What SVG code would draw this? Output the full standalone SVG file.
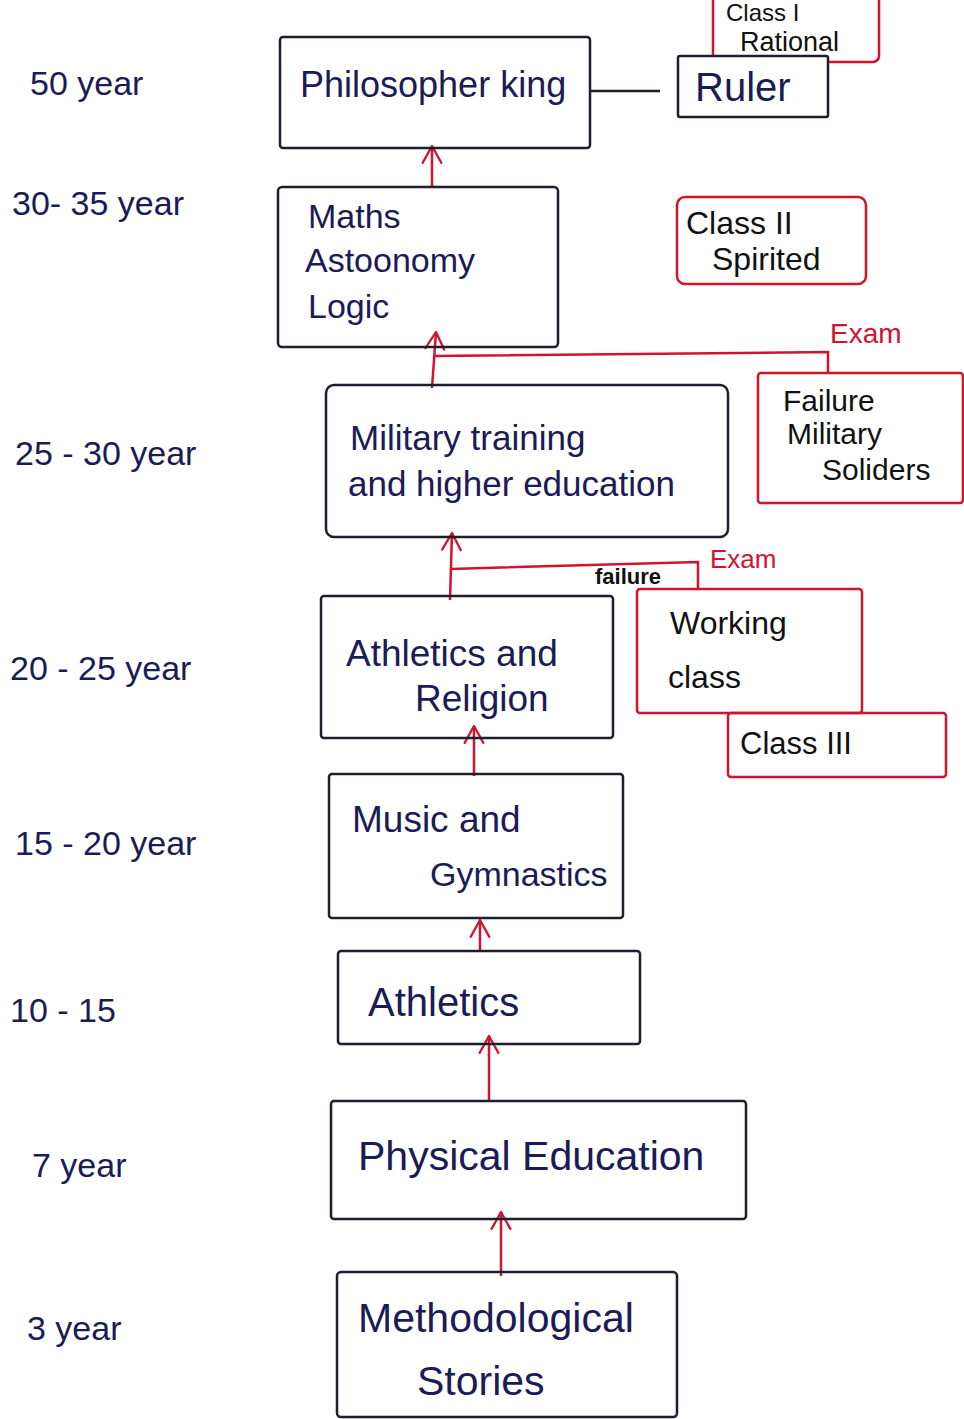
<svg xmlns="http://www.w3.org/2000/svg" width="964" height="1419" viewBox="0 0 964 1419">
<style>
.bg{fill:#ffffff}
.box{fill:none;stroke:#1e1e2e;stroke-width:2.5;stroke-linejoin:round}
.rbox{fill:none;stroke:#d3122e;stroke-width:2.5;stroke-linejoin:round}
.t{font-family:"Liberation Sans","DejaVu Sans",sans-serif;fill:#1b1b55}
.k{font-family:"Liberation Sans","DejaVu Sans",sans-serif;fill:#111111}
.r{font-family:"Liberation Sans","DejaVu Sans",sans-serif;fill:#d3122e}
.con{fill:none;stroke:#d3122e;stroke-width:2.5}
.blk{fill:none;stroke:#1e1e2e;stroke-width:2.5}
</style>
<defs>
<marker id="ah" viewBox="0 0 12 12" refX="11" refY="6" markerWidth="9" markerHeight="9" orient="auto" markerUnits="strokeWidth">
<path d="M2,1 L11,6 L2,11" fill="none" stroke="#d3122e" stroke-width="1.2" stroke-linecap="round" stroke-linejoin="round"/>
</marker>
</defs>
<rect class="bg" x="0" y="0" width="964" height="1419"/>

<g id="age-labels" font-size="34">
<text class="t" x="30" y="95">50 year</text>
<text class="t" x="12" y="215">30- 35 year</text>
<text class="t" x="15" y="465">25 - 30 year</text>
<text class="t" x="10" y="680">20 - 25 year</text>
<text class="t" x="15" y="855">15 - 20 year</text>
<text class="t" x="10" y="1022">10 -   15</text>
<text class="t" x="32" y="1177">7 year</text>
<text class="t" x="27" y="1340">3 year</text>
</g>

<g id="connectors">
<line class="blk" x1="590" y1="91" x2="660" y2="91"/>
<line class="con" x1="432" y1="186" x2="432" y2="146" marker-end="url(#ah)"/>
<line class="con" x1="432" y1="388" x2="436" y2="332" marker-end="url(#ah)"/>
<polyline class="con" points="434,356 828,352 828,374"/>
<line class="con" x1="450" y1="600" x2="452" y2="533" marker-end="url(#ah)"/>
<polyline class="con" points="450,569 698,562 698,590"/>
<line class="con" x1="474" y1="776" x2="474" y2="726" marker-end="url(#ah)"/>
<line class="con" x1="480" y1="950" x2="480" y2="920" marker-end="url(#ah)"/>
<line class="con" x1="489" y1="1102" x2="489" y2="1036" marker-end="url(#ah)"/>
<line class="con" x1="501" y1="1276" x2="501" y2="1212" marker-end="url(#ah)"/>
<text class="r" x="830" y="343" font-size="28">Exam</text>
<text class="k" x="595" y="584" font-size="22" font-weight="bold">failure</text>
<text class="r" x="710" y="568" font-size="26">Exam</text>
</g>

<g id="class-1">
<rect class="rbox" x="713" y="-6" width="166" height="68" rx="6"/>
<text class="k" x="726" y="21" font-size="24">Class I</text>
<text class="k" x="740" y="51" font-size="27">Rational</text>
</g>

<g id="philosopher-king">
<rect class="box" x="280" y="37" width="310" height="111" rx="3"/>
<text class="t" x="300" y="97" font-size="36">Philosopher king</text>
</g>

<g id="ruler">
<rect x="678" y="56" width="150" height="61" fill="#ffffff"/>
<rect class="box" x="678" y="56" width="150" height="61" rx="2"/>
<text class="t" x="695" y="101" font-size="40">Ruler</text>
</g>

<g id="maths">
<rect class="box" x="278" y="187" width="280" height="160" rx="4"/>
<text class="t" x="308" y="228" font-size="34">Maths</text>
<text class="t" x="305" y="272" font-size="34">Astoonomy</text>
<text class="t" x="308" y="318" font-size="34">Logic</text>
</g>

<g id="class-2">
<rect class="rbox" x="677" y="197" width="189" height="87" rx="8"/>
<text class="k" x="686" y="234" font-size="32">Class II</text>
<text class="k" x="712" y="270" font-size="32">Spirited</text>
</g>

<g id="failure-military">
<rect class="rbox" x="758" y="373" width="205" height="130" rx="3"/>
<text class="k" x="783" y="411" font-size="30">Failure</text>
<text class="k" x="787" y="444" font-size="30">Military</text>
<text class="k" x="822" y="480" font-size="30">Soliders</text>
</g>

<g id="military-training">
<rect class="box" x="326" y="385" width="402" height="152" rx="8"/>
<text class="t" x="350" y="450" font-size="35">Military training</text>
<text class="t" x="348" y="496" font-size="35">and  higher education</text>
</g>

<g id="working-class">
<rect class="rbox" x="637" y="589" width="225" height="124" rx="3"/>
<text class="k" x="670" y="634" font-size="32">Working</text>
<text class="k" x="668" y="688" font-size="32">class</text>
</g>

<g id="class-3">
<rect class="rbox" x="728" y="713" width="218" height="64" rx="3"/>
<text class="k" x="740" y="754" font-size="31">Class  III</text>
</g>

<g id="athletics-religion">
<rect class="box" x="321" y="596" width="292" height="142" rx="3"/>
<text class="t" x="346" y="666" font-size="37">Athletics  and</text>
<text class="t" x="415" y="711" font-size="37">Religion</text>
</g>

<g id="music-gymnastics">
<rect class="box" x="329" y="774" width="294" height="144" rx="3"/>
<text class="t" x="352" y="832" font-size="37">Music  and</text>
<text class="t" x="430" y="886" font-size="34">Gymnastics</text>
</g>

<g id="athletics">
<rect class="box" x="338" y="951" width="302" height="93" rx="3"/>
<text class="t" x="368" y="1016" font-size="40">Athletics</text>
</g>

<g id="physical-education">
<rect class="box" x="331" y="1101" width="415" height="118" rx="3"/>
<text class="t" x="358" y="1170" font-size="41">Physical Education</text>
</g>

<g id="methodological-stories">
<rect class="box" x="337" y="1272" width="340" height="145" rx="4"/>
<text class="t" x="358" y="1332" font-size="41">Methodological</text>
<text class="t" x="417" y="1395" font-size="41">Stories</text>
</g>
</svg>
